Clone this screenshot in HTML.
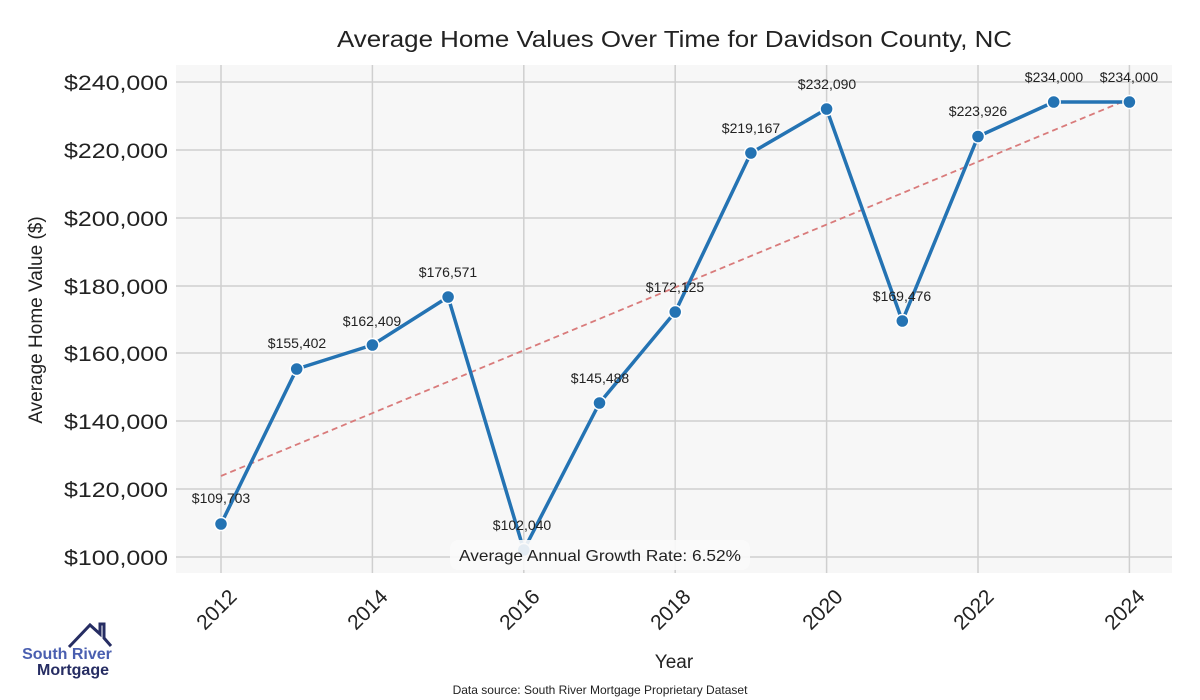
<!DOCTYPE html>
<html><head><meta charset="utf-8"><style>body{margin:0;background:#fff}svg{display:block}</style></head><body>
<svg width="1200" height="700" xmlns="http://www.w3.org/2000/svg" font-family="Liberation Sans, DejaVu Sans, sans-serif">
<rect x="176" y="65" width="996" height="508" fill="#f7f7f7"/>
<g stroke="#cfcfcf" stroke-width="1.5">
<line x1="176" x2="1172" y1="82" y2="82"/><line x1="176" x2="1172" y1="150" y2="150"/><line x1="176" x2="1172" y1="218" y2="218"/><line x1="176" x2="1172" y1="286" y2="286"/><line x1="176" x2="1172" y1="353" y2="353"/><line x1="176" x2="1172" y1="421" y2="421"/><line x1="176" x2="1172" y1="489" y2="489"/><line x1="176" x2="1172" y1="557" y2="557"/>
<line y1="65" y2="573" x1="221" x2="221"/><line y1="65" y2="573" x1="372.4" x2="372.4"/><line y1="65" y2="573" x1="523.8" x2="523.8"/><line y1="65" y2="573" x1="675.2" x2="675.2"/><line y1="65" y2="573" x1="826.6" x2="826.6"/><line y1="65" y2="573" x1="978" x2="978"/><line y1="65" y2="573" x1="1129.4" x2="1129.4"/>
</g>
<text x="337" y="47" font-size="23" textLength="675" lengthAdjust="spacingAndGlyphs" fill="#222">Average Home Values Over Time for Davidson County, NC</text>
<g font-size="21" fill="#222">
<text x="64" y="90" textLength="104" lengthAdjust="spacingAndGlyphs">$240,000</text><text x="64" y="158" textLength="104" lengthAdjust="spacingAndGlyphs">$220,000</text><text x="64" y="226" textLength="104" lengthAdjust="spacingAndGlyphs">$200,000</text><text x="64" y="294" textLength="104" lengthAdjust="spacingAndGlyphs">$180,000</text><text x="64" y="361" textLength="104" lengthAdjust="spacingAndGlyphs">$160,000</text><text x="64" y="429" textLength="104" lengthAdjust="spacingAndGlyphs">$140,000</text><text x="64" y="497" textLength="104" lengthAdjust="spacingAndGlyphs">$120,000</text><text x="64" y="565" textLength="104" lengthAdjust="spacingAndGlyphs">$100,000</text>
</g>
<text transform="translate(42,320) rotate(-90)" font-size="19" text-anchor="middle" fill="#222">Average Home Value ($)</text>
<g font-size="21" fill="#222" text-anchor="end">
<text transform="translate(238,598) rotate(-45)">2012</text><text transform="translate(389,598) rotate(-45)">2014</text><text transform="translate(541,598) rotate(-45)">2016</text><text transform="translate(692,598) rotate(-45)">2018</text><text transform="translate(844,598) rotate(-45)">2020</text><text transform="translate(995,598) rotate(-45)">2022</text><text transform="translate(1146,598) rotate(-45)">2024</text>
</g>
<text x="674" y="668" font-size="19" text-anchor="middle" fill="#222">Year</text>
<text x="600" y="694" font-size="12" text-anchor="middle" fill="#222">Data source: South River Mortgage Proprietary Dataset</text>
<line x1="221" y1="476" x2="1129" y2="99" stroke="#d97b7b" stroke-width="1.8" stroke-dasharray="6,4"/>
<polyline fill="none" stroke="#2473b3" stroke-width="3.5" stroke-linejoin="round" points="221,524 296.7,369 372.4,345 448.1,297 523.8,550 599.5,403 675.2,312 750.9,153 826.6,109 902.3,321 978,136.5 1053.7,102 1129.4,102"/>
<g fill="#2473b3" stroke="#fff" stroke-width="1.5">
<circle cx="221" cy="524" r="6.5"/><circle cx="296.7" cy="369" r="6.5"/><circle cx="372.4" cy="345" r="6.5"/><circle cx="448.1" cy="297" r="6.5"/><circle cx="523.8" cy="550" r="6.5"/><circle cx="599.5" cy="403" r="6.5"/><circle cx="675.2" cy="312" r="6.5"/><circle cx="750.9" cy="153" r="6.5"/><circle cx="826.6" cy="109" r="6.5"/><circle cx="902.3" cy="321" r="6.5"/><circle cx="978" cy="136.5" r="6.5"/><circle cx="1053.7" cy="102" r="6.5"/><circle cx="1129.4" cy="102" r="6.5"/>
</g>
<g font-size="14" text-anchor="middle" fill="#222">
<text x="221" y="503">$109,703</text><text x="297" y="348">$155,402</text><text x="372" y="326">$162,409</text><text x="448" y="277">$176,571</text><text x="522" y="530">$102,040</text><text x="600" y="383">$145,488</text><text x="675" y="292">$172,125</text><text x="751" y="133">$219,167</text><text x="827" y="89">$232,090</text><text x="902" y="301">$169,476</text><text x="978" y="116">$223,926</text><text x="1054" y="82">$234,000</text><text x="1129" y="82">$234,000</text>
</g>
<rect x="450" y="540" width="300" height="30" rx="8" fill="#fafafa" opacity="0.9"/>
<text x="459" y="561" font-size="16" textLength="282" lengthAdjust="spacingAndGlyphs" fill="#222">Average Annual Growth Rate: 6.52%</text>
<polyline fill="none" stroke="#262d63" stroke-width="3" points="69,647 90,625 100,634 100,624 104,624 104,638 111,646"/>
<text x="67" y="659" font-size="16" font-weight="bold" text-anchor="middle" fill="#4a5fb0">South River</text>
<text x="73" y="675" font-size="16" font-weight="bold" text-anchor="middle" fill="#262d63">Mortgage</text>
</svg>
</body></html>
